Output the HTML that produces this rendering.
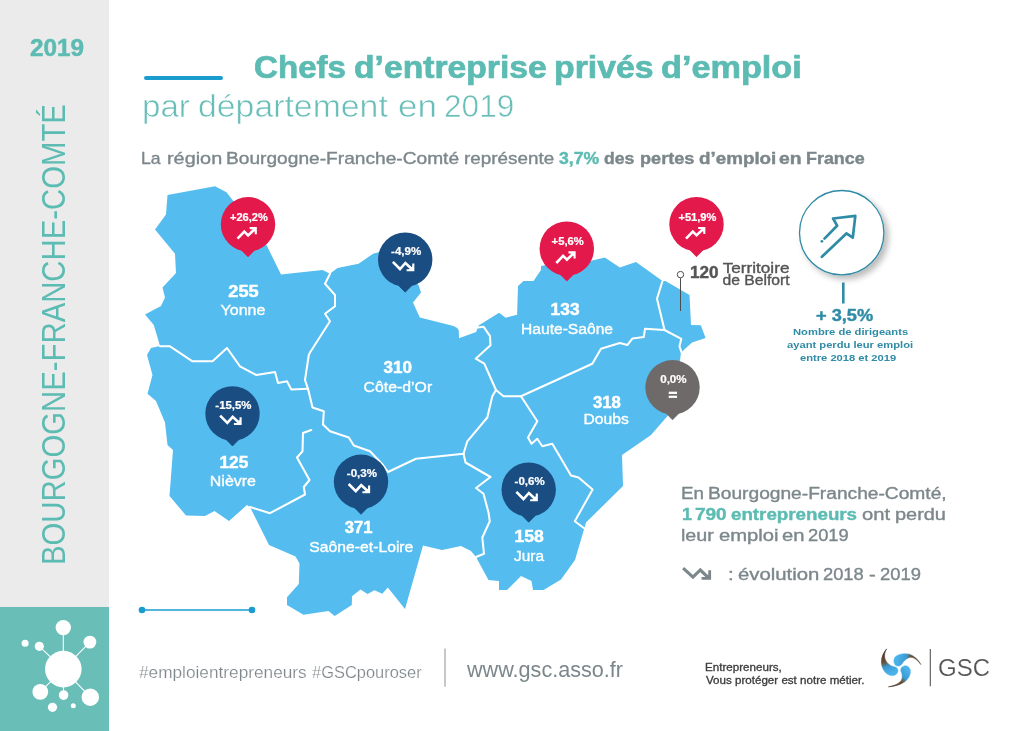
<!DOCTYPE html>
<html lang="fr">
<head>
<meta charset="utf-8">
<title>Chefs d’entreprise privés d’emploi par département en 2019 – Bourgogne-Franche-Comté</title>
<style>
html,body{margin:0;padding:0;background:#fff}
body{width:1024px;height:731px;position:relative;overflow:hidden;font-family:"Liberation Sans",sans-serif}
.t{position:absolute;margin:0;white-space:nowrap;line-height:1;font-weight:400;transform-origin:0 50%}
.sidebar{position:absolute;left:0;top:0;width:109px;height:731px;background:#ebebeb}
.brand{position:absolute;left:0;top:607px;width:109px;height:124px;background:#69beb8}
.ico{position:absolute;left:0;top:0}
.w{position:absolute;top:0;transform-origin:0 50%;white-space:nowrap}
.map{position:absolute;left:0;top:0}
.rule{position:absolute;left:144px;top:76px;width:79px;height:4px;border-radius:2px;background:#1b9ccf}
.vert{transform-origin:0 0;transform:rotate(-90deg)}
b{font-weight:700}
</style>
</head>
<body>

<aside class="sidebar">
<div class="t" style="left:29.71px;top:37.00px;font-size:23.2px;color:#5cbbb2;font-weight:700;transform:scaleX(1.0481);-webkit-text-stroke:0.5px #5cbbb2;">2019</div>
<div class="t" style="left:38.47px;top:565px;font-size:32.4px;color:#5cbbb2;transform-origin:0 0;transform:rotate(-90deg) scaleX(0.9050)">BOURGOGNE-FRANCHE-COMTÉ</div>
<div class="brand"><svg class="ico" width="109" height="124" viewBox="0 607 109 124"><g stroke="#fff" stroke-width="1.1"><line x1="63.3" y1="669.1" x2="63.3" y2="627.6"/><line x1="63.3" y1="669.1" x2="89.9" y2="642.1"/><line x1="63.3" y1="669.1" x2="39.3" y2="646.3"/><line x1="63.3" y1="669.1" x2="40.3" y2="691.8"/><line x1="63.3" y1="669.1" x2="63.6" y2="695.1"/><line x1="63.3" y1="669.1" x2="90.3" y2="697.2"/></g><g fill="#fff"><circle cx="63.3" cy="669.1" r="18.3"/><circle cx="63.3" cy="627.6" r="7.7"/><circle cx="89.9" cy="642.1" r="6.4"/><circle cx="39.3" cy="646.3" r="4.6"/><circle cx="25.1" cy="643.2" r="3.5"/><circle cx="40.3" cy="691.8" r="7.9"/><circle cx="63.6" cy="695.1" r="4.8"/><circle cx="90.3" cy="697.2" r="8.7"/><circle cx="52.5" cy="707.3" r="4.6"/><circle cx="73.3" cy="705.7" r="2.5"/></g></svg></div>
</aside>
<header>
<div class="rule"></div>
<h1 class="t" style="left:254.28px;top:52px;font-size:30.6px;color:#5cbbb2;font-weight:700;"><span class="w" style="left:0.00px;transform:scaleX(1.0821);-webkit-text-stroke:0.7px #5cbbb2;">Chefs</span> <span class="w" style="left:99.98px;transform:scaleX(1.1007);-webkit-text-stroke:0.7px #5cbbb2;">d’entreprise</span> <span class="w" style="left:300.13px;transform:scaleX(1.1048);-webkit-text-stroke:0.7px #5cbbb2;">privés</span> <span class="w" style="left:407.15px;transform:scaleX(1.1193);-webkit-text-stroke:0.7px #5cbbb2;">d’emploi</span></h1>
<h2 class="t" style="left:141.53px;top:91px;font-size:31px;color:#69beb8;"><span class="w" style="left:0.00px;transform:scaleX(1.0686);-webkit-text-stroke:0.55px #fff;">par</span> <span class="w" style="left:56.92px;transform:scaleX(1.0905);-webkit-text-stroke:0.55px #fff;">département</span> <span class="w" style="left:256.48px;transform:scaleX(1.1298);-webkit-text-stroke:0.55px #fff;">en</span> <span class="w" style="left:302.49px;transform:scaleX(1.0189);-webkit-text-stroke:0.55px #fff;">2019</span></h2>
<p class="t" style="left:141.44px;top:150px;font-size:16.2px;color:#7c878b;"><span class="w" style="left:0.00px;transform:scaleX(1.0877);-webkit-text-stroke:0.35px #7c878b;">La</span> <span class="w" style="left:25.09px;transform:scaleX(1.2265);-webkit-text-stroke:0.35px #7c878b;">région</span> <span class="w" style="left:84.52px;transform:scaleX(1.1828);-webkit-text-stroke:0.35px #7c878b;">Bourgogne-Franche-Comté</span> <span class="w" style="left:322.93px;transform:scaleX(1.1645);-webkit-text-stroke:0.35px #7c878b;">représente</span> <span class="w" style="left:417.87px;transform:scaleX(1.0877);color:#5cbbb2;font-weight:700;-webkit-text-stroke:0.4px #5cbbb2;">3,7%</span> <span class="w" style="left:463.06px;transform:scaleX(1.0877);font-weight:700;-webkit-text-stroke:0.4px #7c878b;">des</span> <span class="w" style="left:498.18px;transform:scaleX(1.1206);font-weight:700;-webkit-text-stroke:0.4px #7c878b;">pertes</span> <span class="w" style="left:557.20px;transform:scaleX(1.1620);font-weight:700;-webkit-text-stroke:0.4px #7c878b;">d’emploi</span> <span class="w" style="left:638.03px;transform:scaleX(1.1970);font-weight:700;-webkit-text-stroke:0.4px #7c878b;">en</span> <span class="w" style="left:664.59px;transform:scaleX(1.1045);font-weight:700;-webkit-text-stroke:0.4px #7c878b;">France</span></p>
</header>
<main>
<svg class="map" width="1024" height="731" viewBox="0 0 1024 731" font-family="'Liberation Sans', sans-serif">
<defs><linearGradient id="ga" gradientUnits="userSpaceOnUse" x1="150" y1="110" x2="260" y2="450"><stop offset="0" stop-color="#3a2f28"/><stop offset="0.5" stop-color="#6a5038"/><stop offset="0.7" stop-color="#3a9ad2"/><stop offset="1" stop-color="#4bb3ea"/></linearGradient><linearGradient id="gb" gradientUnits="userSpaceOnUse" x1="680" y1="320" x2="330" y2="260"><stop offset="0" stop-color="#3a2f28"/><stop offset="0.45" stop-color="#6a5038"/><stop offset="0.62" stop-color="#3a9ad2"/><stop offset="1" stop-color="#4bb3ea"/></linearGradient><linearGradient id="gc" gradientUnits="userSpaceOnUse" x1="220" y1="650" x2="470" y2="390"><stop offset="0" stop-color="#3a2f28"/><stop offset="0.5" stop-color="#6a5038"/><stop offset="0.68" stop-color="#3a9ad2"/><stop offset="1" stop-color="#4bb3ea"/></linearGradient><filter id="sh" x="-30%" y="-30%" width="170%" height="170%"><feGaussianBlur in="SourceAlpha" stdDeviation="3"/><feOffset dx="3.5" dy="3.5"/><feComponentTransfer><feFuncA type="linear" slope="0.27"/></feComponentTransfer><feMerge><feMergeNode/><feMergeNode in="SourceGraphic"/></feMerge></filter></defs>
<polygon points="167.5,195.0 215.0,186.3 226.5,192.3 233.3,201.0 266.0,244.0 281.0,274.5 322.5,270.0 330.0,273.8 337.5,268.0 358.5,263.8 373.6,253.4 380.0,252.0 395.0,263.0 418.5,285.0 421.0,292.5 413.0,302.5 419.8,317.5 453.5,326.0 457.3,328.0 458.8,330.5 459.0,338.2 476.1,332.1 478.6,325.5 499.1,312.8 505.6,317.7 517.1,314.8 518.0,286.0 523.5,281.0 533.5,281.0 541.0,270.0 541.0,266.0 560.0,262.0 590.0,261.0 604.8,257.5 619.8,267.5 636.0,262.0 662.5,281.0 665.5,281.0 689.5,295.0 691.0,325.0 700.8,325.2 705.6,338.0 692.0,342.5 681.0,352.5 680.0,360.0 676.0,400.0 667.5,416.0 651.0,435.0 622.0,455.0 623.0,486.0 586.0,522.5 575.0,560.0 561.0,579.5 543.5,590.0 533.0,590.0 531.5,581.0 521.0,576.0 507.0,590.0 499.0,590.0 499.0,581.0 488.5,580.0 476.0,557.0 471.0,551.0 461.0,546.0 442.0,550.0 423.0,545.6 405.0,609.0 387.8,587.5 382.3,593.8 374.5,590.2 367.5,594.0 360.5,589.4 352.0,596.2 351.8,605.0 334.7,616.0 328.4,611.0 303.4,614.7 287.0,605.0 287.0,597.2 298.8,584.0 299.5,563.6 295.6,556.6 269.0,545.0 250.0,507.0 247.0,505.0 229.0,521.0 214.5,511.0 205.0,516.0 186.0,515.5 169.5,496.0 173.0,450.0 167.5,445.0 165.0,422.5 156.0,401.0 147.5,393.8 152.5,375.0 147.0,355.0 151.0,348.0 160.0,346.0 153.8,325.0 145.0,314.5 161.0,306.0 165.0,297.5 162.5,287.5 176.0,273.0 175.0,253.8 155.0,229.5 166.0,214.5" fill="#54bcee"/>
<g fill="none" stroke="#fff" stroke-width="2.05" stroke-linejoin="round" stroke-linecap="round">
<polyline points="160.0,346.3 170.0,346.3 192.5,361.3 212.5,361.3 227.0,348.0 240.0,366.3 256.3,375.0 275.0,372.0 278.0,383.0 287.0,381.3 291.3,389.5 308.0,388.8"/>
<polyline points="330.0,273.8 325.0,283.8 335.0,295.0 335.0,306.3 325.0,313.8 330.0,321.3 310.0,352.5 308.8,355.0 305.0,380.0 308.0,388.8"/>
<polyline points="308.0,388.8 312.5,407.5 323.8,411.3 323.0,424.5"/>
<polyline points="323.0,424.5 330.0,431.3 348.8,437.5 353.8,445.5 370.0,451.3 383.0,465.0 388.0,472.0 416.0,458.8 463.5,453.8"/>
<polyline points="311.3,430.0 303.0,433.0 302.5,451.3 297.0,457.5 309.5,480.0 303.8,487.0 305.0,494.5 270.0,513.2 250.0,507.0"/>
<polyline points="478.0,327.5 483.5,326.7 490.0,336.2 490.5,345.2 475.7,358.7 484.3,363.7 496.0,390.0"/>
<polyline points="496.0,390.0 503.5,396.3 521.0,396.3"/>
<polyline points="521.0,396.3 592.3,363.8 601.0,348.8 619.8,343.0 627.4,345.0 632.5,338.4 643.8,337.0 645.0,328.8 664.5,330.0 681.3,338.8 679.5,346.3 681.5,352.5"/>
<polyline points="662.5,281.0 657.0,298.8 664.5,330.0"/>
<polyline points="496.0,390.0 492.3,396.3 487.3,417.5 467.3,441.3 463.5,453.8"/>
<polyline points="463.5,453.8 465.5,462.5 490.5,477.0 476.0,488.0 483.5,493.8 488.5,512.5 489.8,521.3 482.3,537.5 484.0,553.8 476.0,557.0"/>
<polyline points="521.0,396.3 537.3,421.3 528.0,437.5 531.5,443.8 537.3,438.8 542.3,446.3 552.3,443.8 571.0,475.5 578.5,477.5 592.6,489.5 574.8,521.3 584.8,528.8"/>
</g>
<text transform="translate(243.44,297.00) scale(1.1666,1)" font-size="15.6" fill="#fff" text-anchor="middle" font-weight="700" stroke="#fff" stroke-width="0.45">255</text>
<text transform="translate(242.95,315.00) scale(1.1096,1)" font-size="14.4" fill="#fff" text-anchor="middle" stroke="#fff" stroke-width="0.35">Yonne</text>
<text transform="translate(397.74,373.00) scale(1.0926,1)" font-size="15.6" fill="#fff" text-anchor="middle" font-weight="700" stroke="#fff" stroke-width="0.45">310</text>
<text transform="translate(397.87,392.00) scale(1.1010,1)" font-size="14.4" fill="#fff" text-anchor="middle" stroke="#fff" stroke-width="0.35">Côte-d’Or</text>
<text transform="translate(565.10,315.00) scale(1.1129,1)" font-size="15.6" fill="#fff" text-anchor="middle" font-weight="700" stroke="#fff" stroke-width="0.45">133</text>
<text transform="translate(567.01,334.00) scale(1.0856,1)" font-size="14.4" fill="#fff" text-anchor="middle" stroke="#fff" stroke-width="0.35">Haute-Saône</text>
<text transform="translate(606.90,408.00) scale(1.0740,1)" font-size="15.6" fill="#fff" text-anchor="middle" font-weight="700" stroke="#fff" stroke-width="0.45">318</text>
<text transform="translate(606.10,424.00) scale(1.0886,1)" font-size="14.4" fill="#fff" text-anchor="middle" stroke="#fff" stroke-width="0.35">Doubs</text>
<text transform="translate(233.83,468.00) scale(1.1076,1)" font-size="15.6" fill="#fff" text-anchor="middle" font-weight="700" stroke="#fff" stroke-width="0.45">125</text>
<text transform="translate(232.92,486.00) scale(1.1101,1)" font-size="14.4" fill="#fff" text-anchor="middle" stroke="#fff" stroke-width="0.35">Nièvre</text>
<text transform="translate(358.63,533.00) scale(1.0684,1)" font-size="15.6" fill="#fff" text-anchor="middle" font-weight="700" stroke="#fff" stroke-width="0.45">371</text>
<text transform="translate(361.33,552.00) scale(1.0926,1)" font-size="14.4" fill="#fff" text-anchor="middle" stroke="#fff" stroke-width="0.35">Saône-et-Loire</text>
<text transform="translate(529.05,542.00) scale(1.1256,1)" font-size="15.6" fill="#fff" text-anchor="middle" font-weight="700" stroke="#fff" stroke-width="0.45">158</text>
<text transform="translate(529.07,561.00) scale(1.0709,1)" font-size="14.4" fill="#fff" text-anchor="middle" stroke="#fff" stroke-width="0.35">Jura</text>
<line x1="680.5" y1="278" x2="680.5" y2="311" stroke="#4d4d4d" stroke-width="1"/>
<circle cx="680.5" cy="274.6" r="3.2" fill="#fff" stroke="#4d4d4d" stroke-width="1"/>
<text transform="translate(690.03,277.90) scale(1.1001,1)" font-size="15.6" fill="#555" text-anchor="start" font-weight="700" stroke="#555" stroke-width="0.4">120</text>
<text transform="translate(722.76,272.80) scale(1.2250,1)" font-size="14" fill="#555" text-anchor="start" stroke="#555" stroke-width="0.35">Territoire</text>
<text transform="translate(722.47,284.50) scale(1.1216,1)" font-size="14" fill="#555" text-anchor="start" stroke="#555" stroke-width="0.35">de Belfort</text>
<g transform="translate(248.00,224.30)"><path d="M-6.4,26 L0,32.5 L6.4,26 Z" fill="#e3184b" stroke="#e3184b" stroke-width="0.8" stroke-linejoin="round"/><circle r="27.2" fill="#e3184b"/><text transform="translate(0.91,-3.30) scale(1.1118,1)" font-size="10" fill="#fff" text-anchor="middle" font-weight="700" stroke="#fff" stroke-width="0.2">+26,2%</text><g transform="translate(-0.5,0.8)"><path d="M-10,13.6 L-3.2,6.5 L0.6,10.3 L7.6,3.6" fill="none" stroke="#fff" stroke-width="2.6" stroke-linejoin="miter"/><path d="M2.2,3 L8.3,3 L8.3,9.1" fill="none" stroke="#fff" stroke-width="2.1" stroke-linejoin="miter"/><path d="M3.6,3 L8.3,3 L8.3,7.7 Z" fill="#fff"/></g></g>
<g transform="translate(405.20,259.70)"><path d="M-6.4,26 L0,32.5 L6.4,26 Z" fill="#1a4d82" stroke="#1a4d82" stroke-width="0.8" stroke-linejoin="round"/><circle r="27.2" fill="#1a4d82"/><text transform="translate(0.93,-4.70) scale(1.1569,1)" font-size="10" fill="#fff" text-anchor="middle" font-weight="700" stroke="#fff" stroke-width="0.2">-4,9%</text><path d="M-12.35,2.2 L-5.2,9.3 L0.2,3.3 L7.4,10" fill="none" stroke="#fff" stroke-width="2.6" stroke-linejoin="miter"/><path d="M8.1,3.8 L8.1,10.5 L1.4,10.5" fill="none" stroke="#fff" stroke-width="2.1" stroke-linejoin="miter"/><path d="M8.1,5.6 L8.1,10.5 L3.2,10.5 Z" fill="#fff"/></g>
<g transform="translate(566.80,248.60)"><path d="M-6.4,26 L0,32.5 L6.4,26 Z" fill="#e3184b" stroke="#e3184b" stroke-width="0.8" stroke-linejoin="round"/><circle r="27.2" fill="#e3184b"/><text transform="translate(0.91,-3.60) scale(1.1250,1)" font-size="10" fill="#fff" text-anchor="middle" font-weight="700" stroke="#fff" stroke-width="0.2">+5,6%</text><g transform="translate(-0.5,0.8)"><path d="M-10,13.6 L-3.2,6.5 L0.6,10.3 L7.6,3.6" fill="none" stroke="#fff" stroke-width="2.6" stroke-linejoin="miter"/><path d="M2.2,3 L8.3,3 L8.3,9.1" fill="none" stroke="#fff" stroke-width="2.1" stroke-linejoin="miter"/><path d="M3.6,3 L8.3,3 L8.3,7.7 Z" fill="#fff"/></g></g>
<g transform="translate(696.50,224.20)"><path d="M-6.4,26 L0,32.5 L6.4,26 Z" fill="#e3184b" stroke="#e3184b" stroke-width="0.8" stroke-linejoin="round"/><circle r="27.2" fill="#e3184b"/><text transform="translate(0.91,-3.20) scale(1.1118,1)" font-size="10" fill="#fff" text-anchor="middle" font-weight="700" stroke="#fff" stroke-width="0.2">+51,9%</text><g transform="translate(-0.5,0.8)"><path d="M-10,13.6 L-3.2,6.5 L0.6,10.3 L7.6,3.6" fill="none" stroke="#fff" stroke-width="2.6" stroke-linejoin="miter"/><path d="M2.2,3 L8.3,3 L8.3,9.1" fill="none" stroke="#fff" stroke-width="2.1" stroke-linejoin="miter"/><path d="M3.6,3 L8.3,3 L8.3,7.7 Z" fill="#fff"/></g></g>
<g transform="translate(232.50,413.50)"><path d="M-6.4,26 L0,32.5 L6.4,26 Z" fill="#1a4d82" stroke="#1a4d82" stroke-width="0.8" stroke-linejoin="round"/><circle r="27.2" fill="#1a4d82"/><text transform="translate(0.92,-4.50) scale(1.1424,1)" font-size="10" fill="#fff" text-anchor="middle" font-weight="700" stroke="#fff" stroke-width="0.2">-15,5%</text><path d="M-12.35,2.2 L-5.2,9.3 L0.2,3.3 L7.4,10" fill="none" stroke="#fff" stroke-width="2.6" stroke-linejoin="miter"/><path d="M8.1,3.8 L8.1,10.5 L1.4,10.5" fill="none" stroke="#fff" stroke-width="2.1" stroke-linejoin="miter"/><path d="M8.1,5.6 L8.1,10.5 L3.2,10.5 Z" fill="#fff"/></g>
<g transform="translate(361.00,481.80)"><path d="M-6.4,26 L0,32.5 L6.4,26 Z" fill="#1a4d82" stroke="#1a4d82" stroke-width="0.8" stroke-linejoin="round"/><circle r="27.2" fill="#1a4d82"/><text transform="translate(0.93,-4.80) scale(1.1569,1)" font-size="10" fill="#fff" text-anchor="middle" font-weight="700" stroke="#fff" stroke-width="0.2">-0,3%</text><path d="M-12.35,2.2 L-5.2,9.3 L0.2,3.3 L7.4,10" fill="none" stroke="#fff" stroke-width="2.6" stroke-linejoin="miter"/><path d="M8.1,3.8 L8.1,10.5 L1.4,10.5" fill="none" stroke="#fff" stroke-width="2.1" stroke-linejoin="miter"/><path d="M8.1,5.6 L8.1,10.5 L3.2,10.5 Z" fill="#fff"/></g>
<g transform="translate(528.70,489.70)"><path d="M-6.4,26 L0,32.5 L6.4,26 Z" fill="#1a4d82" stroke="#1a4d82" stroke-width="0.8" stroke-linejoin="round"/><circle r="27.2" fill="#1a4d82"/><text transform="translate(0.93,-4.70) scale(1.1569,1)" font-size="10" fill="#fff" text-anchor="middle" font-weight="700" stroke="#fff" stroke-width="0.2">-0,6%</text><path d="M-12.35,2.2 L-5.2,9.3 L0.2,3.3 L7.4,10" fill="none" stroke="#fff" stroke-width="2.6" stroke-linejoin="miter"/><path d="M8.1,3.8 L8.1,10.5 L1.4,10.5" fill="none" stroke="#fff" stroke-width="2.1" stroke-linejoin="miter"/><path d="M8.1,5.6 L8.1,10.5 L3.2,10.5 Z" fill="#fff"/></g>
<g transform="translate(672.50,387.30)"><path d="M-6.4,26 L0,32.5 L6.4,26 Z" fill="#6e6a69" stroke="#6e6a69" stroke-width="0.8" stroke-linejoin="round"/><circle r="27.2" fill="#6e6a69"/><text transform="translate(0.92,-4.30) scale(1.1635,1)" font-size="10" fill="#fff" text-anchor="middle" font-weight="700" stroke="#fff" stroke-width="0.2">0,0%</text><text transform="translate(0.39,12.70) scale(1.0033,1)" font-size="15" fill="#fff" text-anchor="middle" font-weight="700" stroke="#fff" stroke-width="0.7">=</text></g>
<circle cx="841.7" cy="232.7" r="42.2" fill="#fff" stroke="#2f8ba6" stroke-width="1.3" filter="url(#sh)"/>
<path d="M824.5,238.6 L837.1,225.7 L833.1,218.5 L855.3,215.9 L852.8,237.7 L846.4,233.4 L821.9,256.8" fill="none" stroke="#2f8ba6" stroke-width="2.7" stroke-linejoin="round" stroke-linecap="round"/>
<circle cx="821.9" cy="241.3" r="1.4" fill="#2f8ba6"/>
<line x1="843.3" y1="282.5" x2="843.3" y2="303.5" stroke="#2f8ba6" stroke-width="2.6"/>
<line x1="142" y1="610" x2="252" y2="610" stroke="#1b9ccf" stroke-width="1.5"/>
<circle cx="142" cy="610" r="3.3" fill="#1b9ccf"/><circle cx="252" cy="610" r="3.3" fill="#1b9ccf"/>
<g transform="translate(675,555) scale(0.15625)" fill="none" stroke="#7c878b"><path d="M52,84 L115,142 L162,96 L210,142" stroke-width="20"/><path d="M222,98 L222,150 L170,150" stroke-width="18"/><path d="M222,120 L222,150 L190,150 Z" fill="#7c878b" stroke="none"/></g>
<line x1="445" y1="648.6" x2="445" y2="686.7" stroke="#8a9196" stroke-width="1"/>
<line x1="930.3" y1="648.9" x2="930.3" y2="686.3" stroke="#555" stroke-width="1.1"/>
<g transform="translate(874,642) scale(0.06845)"><path d="M185,100 C140,150 105,220 108,300 C112,390 170,480 250,490 C310,497 350,460 350,415 C350,385 320,365 290,362 C230,345 175,300 160,240 C148,190 160,140 185,100 Z" fill="url(#ga)" stroke="url(#ga)" stroke-width="7" stroke-linejoin="round"/><path d="M685,330 C650,260 590,205 520,180 C450,160 370,170 320,210 C285,240 280,300 310,335 C335,362 380,355 405,325 C430,280 470,240 520,225 C585,215 640,270 685,330 Z" fill="url(#gb)" stroke="url(#gb)" stroke-width="7" stroke-linejoin="round"/><path d="M210,655 C290,650 380,630 450,580 C510,535 540,470 530,410 C522,365 480,340 440,350 C405,358 385,390 392,425 C415,470 420,520 400,560 C365,615 290,640 210,655 Z" fill="url(#gc)" stroke="url(#gc)" stroke-width="7" stroke-linejoin="round"/></g>
</svg>
<div class="t" style="left:816.47px;top:308.00px;font-size:16px;color:#2f8ba6;font-weight:700;transform:scaleX(1.1373);-webkit-text-stroke:0.4px #2f8ba6;">+ 3,5%</div>
<div class="t" style="left:792.57px;top:327.00px;font-size:9.5px;color:#2f8ba6;font-weight:700;transform:scaleX(1.1791);">Nombre de dirigeants</div>
<div class="t" style="left:787.19px;top:340.00px;font-size:9.5px;color:#2f8ba6;font-weight:700;transform:scaleX(1.1767);">ayant perdu leur emploi</div>
<div class="t" style="left:800.38px;top:353.00px;font-size:9.5px;color:#2f8ba6;font-weight:700;transform:scaleX(1.1752);">entre 2018 et 2019</div>
<p class="t" style="left:681.00px;top:486px;font-size:16px;color:#7c878b;"><span class="w" style="left:0.00px;transform:scaleX(1.1748);-webkit-text-stroke:0.35px #7c878b;">En</span> <span class="w" style="left:26.57px;transform:scaleX(1.1978);-webkit-text-stroke:0.35px #7c878b;">Bourgogne-Franche-Comté,</span></p>
<p class="t" style="left:681.75px;top:507px;font-size:16px;color:#7c878b;"><span class="w" style="left:0.00px;transform:scaleX(1.1185);color:#5cbbb2;font-weight:700;-webkit-text-stroke:0.4px #5cbbb2;">1</span> <span class="w" style="left:13.54px;transform:scaleX(1.1870);color:#5cbbb2;font-weight:700;-webkit-text-stroke:0.4px #5cbbb2;">790</span> <span class="w" style="left:49.55px;transform:scaleX(1.1715);color:#5cbbb2;font-weight:700;-webkit-text-stroke:0.4px #5cbbb2;">entrepreneurs</span> <span class="w" style="left:180.02px;transform:scaleX(1.2613);-webkit-text-stroke:0.35px #7c878b;">ont</span> <span class="w" style="left:213.11px;transform:scaleX(1.2449);-webkit-text-stroke:0.35px #7c878b;">perdu</span></p>
<p class="t" style="left:681.22px;top:528px;font-size:16px;color:#7c878b;"><span class="w" style="left:0.00px;transform:scaleX(1.2303);-webkit-text-stroke:0.35px #7c878b;">leur</span> <span class="w" style="left:37.92px;transform:scaleX(1.2632);-webkit-text-stroke:0.35px #7c878b;">emploi</span> <span class="w" style="left:101.02px;transform:scaleX(1.2624);-webkit-text-stroke:0.35px #7c878b;">en</span> <span class="w" style="left:127.13px;transform:scaleX(1.1420);-webkit-text-stroke:0.35px #7c878b;">2019</span></p>
<p class="t" style="left:727.85px;top:567px;font-size:16px;color:#7c878b;"><span class="w" style="left:0.00px;transform:scaleX(1.2853);-webkit-text-stroke:0.35px #7c878b;">:</span> <span class="w" style="left:10.29px;transform:scaleX(1.2700);-webkit-text-stroke:0.35px #7c878b;">évolution</span> <span class="w" style="left:94.99px;transform:scaleX(1.1445);-webkit-text-stroke:0.35px #7c878b;">2018</span> <span class="w" style="left:141.29px;transform:scaleX(1.2626);-webkit-text-stroke:0.35px #7c878b;">-</span> <span class="w" style="left:152.13px;transform:scaleX(1.1486);-webkit-text-stroke:0.35px #7c878b;">2019</span></p>
</main>
<footer>
<div class="t" style="left:138.56px;top:664px;font-size:17px;color:#7f878b;"><span class="w" style="left:0.00px;transform:scaleX(1.0138);-webkit-text-stroke:0.2px #fff;">#emploientrepreneurs</span> <span class="w" style="left:173.30px;transform:scaleX(0.9669);-webkit-text-stroke:0.2px #fff;">#GSCpouroser</span></div>
<div class="t" style="left:467.05px;top:660.00px;font-size:21.5px;color:#7c878b;transform:scaleX(1.0047);">www.gsc.asso.fr</div>
<div class="t" style="left:704.87px;top:663.00px;font-size:10.2px;color:#3c3c3c;transform:scaleX(1.1404);-webkit-text-stroke:0.3px #3c3c3c;">Entrepreneurs,</div>
<div class="t" style="left:705.77px;top:676.00px;font-size:10.2px;color:#3c3c3c;transform:scaleX(1.1376);-webkit-text-stroke:0.3px #3c3c3c;">Vous protéger est notre métier.</div>
<div class="t" style="left:938.00px;top:657.00px;font-size:23.4px;color:#555;transform:scaleX(1.0293);-webkit-text-stroke:0.15px #fff;">GSC</div>
</footer>
</body></html>
